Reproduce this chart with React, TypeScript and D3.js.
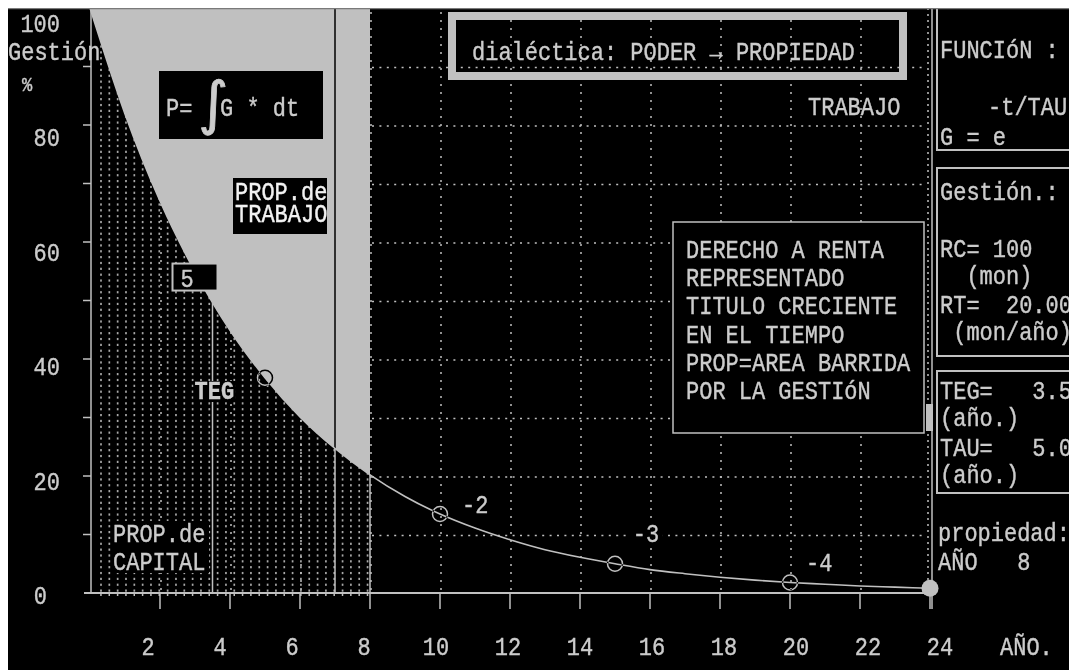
import React from "react";
import * as d3 from "d3";

// ---- data ----
const YEARS = [0, 1, 2, 3, 4, 5, 6, 7, 8, 9, 10, 11, 12, 13, 14, 15, 16, 17, 18, 19, 20, 21, 22, 23, 24];
const GESTION = [100, 81.9, 67.0, 54.9, 44.9, 36.8, 30.1, 24.7, 20.2, 16.5, 13.5, 11.1, 9.1, 7.4, 6.1, 5.0, 4.0, 3.3, 2.7, 2.2, 1.8, 1.5, 1.2, 1.0, 0.8];
const YEAR_TICKS = [2, 4, 6, 8, 10, 12, 14, 16, 18, 20, 22, 24];
const YEAR_GRID = [2, 4, 6, 8, 10, 12, 14, 16, 18, 20, 22];
const PCT_LABELS = [0, 20, 40, 60, 80, 100];
const PCT_TICKS = [10, 20, 30, 40, 50, 60, 70, 80, 90, 100];
const PCT_GRID = [10, 20, 30, 40, 50, 60, 70, 80, 90];
const MARKER_YEARS = [5, 10, 15, 20];
const CURVE_LABELS = ["-2", "-3", "-4"];
const CURVE_LABEL_T = [10.63, 15.51, 20.46];
const CURVE_LABEL_G = [13.7, 8.7, 3.8];
const TEG = 3.5;
const TAU = 5.0;
const WORK_START = 7;
const WORK_END = 8;
const END_YEAR = 24;
const BOX_LINES = ["DERECHO A RENTA", "REPRESENTADO", "TITULO CRECIENTE", "EN EL TIEMPO", "PROP=AREA BARRIDA", "POR LA GESTIóN"];

const W = 1061;
const H = 662;
const GRAY = "#c0c0c0";
const TXT = "#cccccc";
const FONT = "'Liberation Mono', 'DejaVu Sans Mono', monospace";

const x = d3.scaleLinear().domain([0, 24]).range([90, 930]);
const y = d3.scaleLinear().domain([0, 100]).range([593, 8]);
const xLab = d3.scaleLinear().domain([2, 24]).range([148, 940]);
const yLab = d3.scaleLinear().domain([0, 100]).range([604, 32]);

const pts = YEARS.map((t, i) => ({ t, g: GESTION[i] }));
const gAt = (t: number) => {
  const i = Math.floor(t);
  if (i >= GESTION.length - 1) return GESTION[GESTION.length - 1];
  const f = t - i;
  return GESTION[i] * Math.pow(GESTION[i + 1] / GESTION[i], f);
};

const line = d3.line<{ t: number; g: number }>().x(d => x(d.t)).y(d => y(d.g)).curve(d3.curveMonotoneX);
const capPts = pts.filter(d => d.t <= WORK_END);
const areaUnder = d3.area<{ t: number; g: number }>().x(d => x(d.t)).y0(y(0)).y1(d => y(d.g)).curve(d3.curveMonotoneX);
const areaAbove = d3.area<{ t: number; g: number }>().x(d => x(d.t)).y0(y(100)).y1(d => y(d.g)).curve(d3.curveMonotoneX);

const DOT_T = d3.range(0.29, WORK_END, 0.238);
const DOT_G = d3.range(0.6, 100, 1);

function T(props: any) {
  const { children, x: tx = 0, y: ty = 0, sy = 1.18, style, ...rest } = props;
  return (
    <text
      transform={`translate(${tx},${ty}) scale(1,${sy})`}
      fontFamily={FONT}
      fontSize={22}
      fill={TXT}
      stroke={rest.fill || TXT}
      strokeWidth={0.35}
      style={{ whiteSpace: "pre", ...(style || {}) }}
      {...rest}
    >
      {children}
    </text>
  );
}

export default function App() {
  const tegX = x(TEG);
  const tegY = y(gAt(TEG));
  return (
    <svg width={W} height={H} style={{ position: "absolute", left: 8, top: 8, background: "#000" }}>
      <g transform="translate(-8,-8)">
        <rect x={8} y={8} width={W} height={H} fill="#000" />
        <defs>
          <clipPath id="capClip">
            <path d={areaUnder(capPts) || ""} />
          </clipPath>
        </defs>
        {/* capital pattern */}
        <g clipPath="url(#capClip)">
          {DOT_T.map((t, i) =>
            DOT_G.map((g, j) => (
              <rect key={i + "_" + j} x={x(t)} y={y(g)} width={1.7} height={2.2} fill="#a8a8a8" />
            ))
          )}
        </g>
        {/* grid */}
        {PCT_GRID.map(v => (
          <line key={"h" + v} x1={x(WORK_END) + 2} x2={x(END_YEAR) - 3} y1={y(v) + 1} y2={y(v) + 1} stroke={GRAY} strokeWidth={1.5} strokeDasharray="2 5.4" />
        ))}
        {YEAR_GRID.map(v => (
          <line key={"v" + v} x1={x(v) + 1} x2={x(v) + 1} y1={y(100) + 4} y2={y(0)} stroke={GRAY} strokeWidth={1.5} strokeDasharray="2 6" />
        ))}
        <line x1={x(END_YEAR) - 2} x2={x(END_YEAR) - 2} y1={y(100)} y2={y(0)} stroke={GRAY} strokeWidth={1.5} strokeDasharray="2 4" />
        {/* labour region */}
        <path d={areaAbove(capPts) || ""} fill={GRAY} />
        {/* vertical markers */}
        <line x1={x(WORK_START)} x2={x(WORK_START)} y1={y(100)} y2={y(gAt(WORK_START))} stroke="#000" strokeWidth={1.5} />
        <line x1={x(WORK_START)} x2={x(WORK_START)} y1={y(gAt(WORK_START))} y2={y(0)} stroke={GRAY} strokeWidth={1.5} />
        <line x1={x(WORK_END)} x2={x(WORK_END)} y1={y(gAt(WORK_END))} y2={y(0)} stroke={GRAY} strokeWidth={1.5} />
        <line x1={tegX} x2={tegX} y1={tegY} y2={y(0)} stroke={GRAY} strokeWidth={1.5} />
        {/* curve */}
        <path d={line(pts) || ""} fill="none" stroke={GRAY} strokeWidth={1.6} />
        {/* right frame */}
        <line x1={x(END_YEAR) + 2} x2={x(END_YEAR) + 2} y1={y(100)} y2={y(0) + 16} stroke={GRAY} strokeWidth={1.5} />
        <rect x={x(END_YEAR) - 4} y={404} width={7} height={27} fill={GRAY} />
        {/* axes */}
        <line x1={x(0) + 1} x2={x(0) + 1} y1={y(100)} y2={y(0)} stroke={GRAY} strokeWidth={1.5} />
        {PCT_TICKS.map(v => (
          <line key={"yt" + v} x1={x(0) - 7} x2={x(0) + 1} y1={y(v)} y2={y(v)} stroke={GRAY} strokeWidth={1.5} />
        ))}
        <line x1={x(0) - 6} x2={x(END_YEAR)} y1={y(0)} y2={y(0)} stroke={GRAY} strokeWidth={1.8} />
        {YEAR_TICKS.map(v => (
          <line key={"xt" + v} x1={x(v)} x2={x(v)} y1={y(0)} y2={y(0) + 16} stroke={GRAY} strokeWidth={1.5} />
        ))}
        {DOT_T.map((t, i) => (
          <line key={"mt" + i} x1={x(t) + 0.8} x2={x(t) + 0.8} y1={y(0)} y2={y(0) + 3} stroke={GRAY} strokeWidth={1.5} />
        ))}
        {/* markers */}
        {MARKER_YEARS.map(t => (
          <circle key={"m" + t} cx={x(t)} cy={y(gAt(t))} r={7.5} fill="none" stroke={GRAY} strokeWidth={1.5} style={{ mixBlendMode: "difference" }} />
        ))}
        <circle cx={x(END_YEAR)} cy={y(gAt(END_YEAR))} r={8.5} fill={GRAY} />
        {CURVE_LABELS.map((s, i) => (
          <g key={"cl" + s}>
            <rect x={x(CURVE_LABEL_T[i]) - 4} y={y(CURVE_LABEL_G[i]) - 19} width={34} height={23} fill="#000" />
            <T x={x(CURVE_LABEL_T[i])} y={y(CURVE_LABEL_G[i])}>{s}</T>
          </g>
        ))}
        {/* axis labels */}
        {PCT_LABELS.map(v => (
          <T key={"yl" + v} x={v === 0 ? 47 : 60} y={yLab(v)} textAnchor="end">{v}</T>
        ))}
        <T x={8} y={60}>Gestión</T>
        <T x={22} y={91} fontSize={17}>%</T>
        {YEAR_TICKS.map(v => (
          <T key={"xl" + v} x={xLab(v)} y={655} textAnchor="middle">{v}</T>
        ))}
        <T x={1000} y={655}>AÑO.</T>
        {/* formula box */}
        <rect x={159} y={71} width={164} height={68} fill="#000" />
        <T x={166} y={116}>P=</T>
        <text x={198} y={123} fontFamily="'DejaVu Sans', sans-serif" fontSize={58} fill={TXT} stroke={TXT} strokeWidth={0.8}>∫</text>
        <T x={220} y={116}>G * dt</T>
        {/* PROP.de TRABAJO */}
        <rect x={233} y={178} width={94} height={56} fill="#000" />
        <T x={235} y={200} fill="#f2f2f2">PROP.de</T>
        <T x={235} y={222} fill="#f2f2f2">TRABAJO</T>
        {/* TEG box */}
        <rect x={tegX - 40} y={tegY - 39} width={45} height={27} fill="#000" stroke={GRAY} strokeWidth={2} />
        <T x={tegX - 32} y={tegY - 16}>{String(TAU).slice(0, 1)}</T>
        <rect x={tegX - 19} y={381} width={42} height={21} fill="#000" />
        <T x={tegX - 18} y={399} fontWeight="bold">TEG</T>
        {/* PROP.de CAPITAL */}
        <rect x={111} y={521} width={98} height={52} fill="#000" />
        <T x={113} y={542}>PROP.de</T>
        <T x={113} y={570}>CAPITAL</T>
        {/* title */}
        <rect x={452} y={16} width={451} height={60} fill="none" stroke={GRAY} strokeWidth={8} />
        <T x={472} y={60}>dialéctica: PODER → PROPIEDAD</T>
        <T x={808} y={115}>TRABAJO</T>
        {/* text box */}
        <rect x={673} y={222} width={251} height={211} fill="#000" stroke={GRAY} strokeWidth={1.5} />
        {BOX_LINES.map((s, i) => (
          <T key={"bl" + i} x={686} y={258 + i * 28.2}>{s}</T>
        ))}
        {/* right panel */}
        <rect x={937} y={8} width={140} height={142} fill="#000" stroke={GRAY} strokeWidth={2} />
        <rect x={937} y={168} width={140} height={188} fill="#000" stroke={GRAY} strokeWidth={2} />
        <rect x={937} y={371} width={140} height={122} fill="#000" stroke={GRAY} strokeWidth={2} />
        <T x={940} y={58}>FUNCIóN :</T>
        <T x={988} y={115}>-t/TAU</T>
        <T x={940} y={145}>G = e</T>
        <T x={940} y={200}>Gestión.:</T>
        <T x={940} y={257}>RC= 100</T>
        <T x={940} y={284}>  (mon)</T>
        <T x={940} y={313}>RT=  20.00</T>
        <T x={940} y={340}> (mon/año)</T>
        <T x={940} y={399}>TEG=   3.5</T>
        <T x={940} y={426}>(año.)</T>
        <T x={940} y={456}>TAU=   5.0</T>
        <T x={940} y={483}>(año.)</T>
        <T x={938} y={541}>propiedad:</T>
        <T x={938} y={570}>AÑO   8</T>
        {/* top border */}
        <line x1={8} x2={8 + W} y1={8.5} y2={8.5} stroke="#7a7a7a" strokeWidth={1.5} />
      </g>
    </svg>
  );
}
